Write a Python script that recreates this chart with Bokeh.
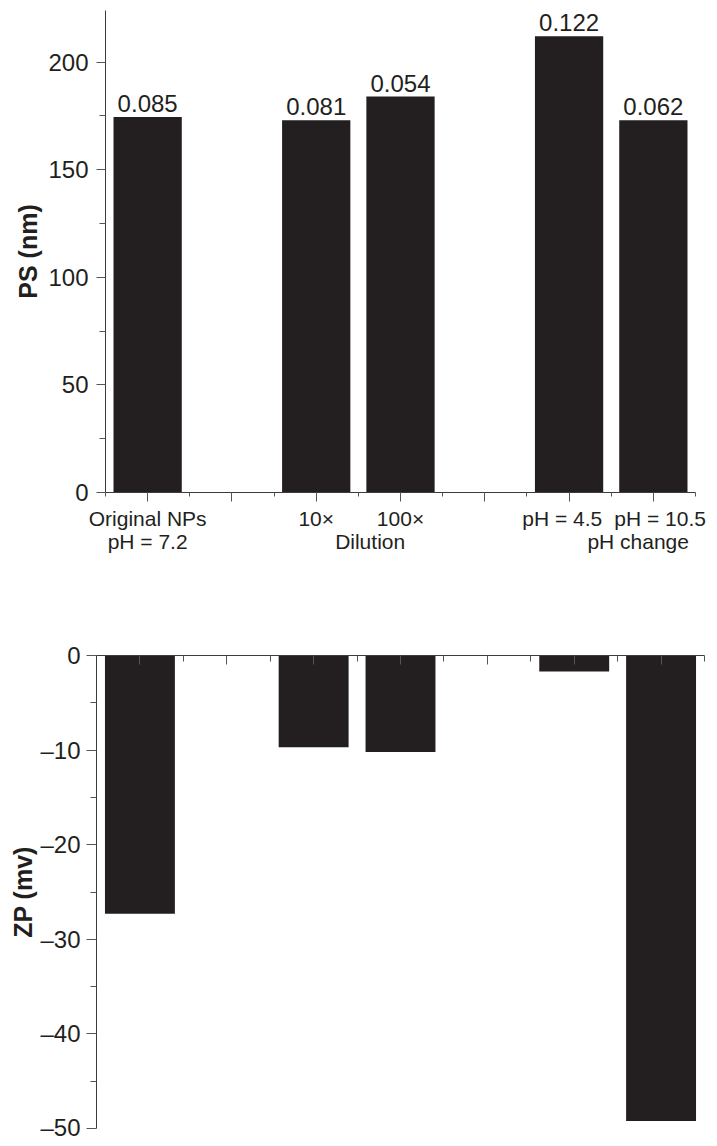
from bokeh.plotting import figure
from bokeh.models import Range1d, FixedTicker, LinearAxis, ColumnDataSource
from bokeh.layouts import column
from bokeh.embed import file_html
from bokeh.resources import INLINE
from bokeh.core.properties import value

# ---------------- data ----------------
bar_pos = [1, 3, 4, 6, 7]
cat_labels = ["Original NPs", "10×", "100×", "pH = 4.5", "pH = 10.5"]
cat_label_pos = [1, 3, 4, 5.92, 7.08]
group_labels = ["pH = 7.2", "Dilution", "pH change"]
group_label_pos = [1, 3.64, 6.82]
ps_nm = [174.5, 173.0, 184.0, 212.0, 173.0]
pdi = ["0.085", "0.081", "0.054", "0.122", "0.062"]
zp_mv = [-27.3, -9.7, -10.2, -1.7, -49.2]
ps_ticks = [0, 50, 100, 150, 200]
ps_minor = [25, 75, 125, 175]
zp_ticks = [0, -10, -20, -30, -40, -50]
zp_minor = [-5, -15, -25, -35, -45]
x_major = [1, 2, 3, 4, 5, 6, 7]
x_minor = [0.5, 1.5, 2.5, 3.5, 4.5, 5.5, 6.5, 7.5]

INK = "#231f20"
AXIS = "#3c3c3c"
TICK = "#555555"
FONT = "Liberation Sans"


def style_line_axis(ax):
    ax.axis_line_color = AXIS
    ax.major_tick_line_color = TICK
    ax.minor_tick_line_color = TICK


def label_axis(ticks, texts, standoff):
    ax = LinearAxis(ticker=FixedTicker(ticks=ticks, minor_ticks=[]))
    ax.major_label_overrides = {t: s for t, s in zip(ticks, texts)}
    ax.axis_line_color = None
    ax.major_tick_line_color = None
    ax.minor_tick_line_color = None
    ax.major_tick_out = 0
    ax.major_tick_in = 0
    ax.minor_tick_out = 0
    ax.minor_tick_in = 0
    ax.major_label_standoff = standoff
    ax.major_label_text_font = FONT
    ax.major_label_text_font_size = "21px"
    ax.major_label_text_color = INK
    return ax


# ---------------- top chart: particle size ----------------
p1 = figure(width=712, height=600, x_range=Range1d(0.5, 7.5), y_range=Range1d(0, 224),
            output_backend="svg", toolbar_location=None, frame_align=False,
            min_border_left=105, min_border_right=17, min_border_top=10, min_border_bottom=108)
p1.outline_line_color = None
p1.grid.visible = False

src1 = ColumnDataSource(dict(x=bar_pos, top=ps_nm, lab=pdi))
p1.vbar(x="x", top="top", bottom=0, width=0.81, source=src1, fill_color=INK, line_color=None)
p1.text(x="x", y="top", text="lab", source=src1, text_align="center", text_baseline="bottom",
        y_offset=-5, text_font=value(FONT), text_font_size="24px", text_color=INK)

xa = p1.xaxis[0]
xa.ticker = FixedTicker(ticks=x_major, minor_ticks=x_minor)
xa.major_label_text_font_size = "0px"
xa.major_label_text_color = None
xa.major_label_standoff = 0
style_line_axis(xa)
xa.major_tick_out = 9
xa.major_tick_in = 0
xa.minor_tick_out = 4
xa.minor_tick_in = 0

p1.add_layout(label_axis(cat_label_pos, cat_labels, 5), "below")
p1.add_layout(label_axis(group_label_pos, group_labels, -3), "below")

ya = p1.yaxis[0]
ya.ticker = FixedTicker(ticks=ps_ticks, minor_ticks=ps_minor)
style_line_axis(ya)
ya.major_tick_out = 9
ya.major_tick_in = 0
ya.minor_tick_out = 6
ya.minor_tick_in = 0
ya.major_label_standoff = 8
ya.major_label_text_font = FONT
ya.major_label_text_font_size = "24px"
ya.major_label_text_color = INK
ya.axis_label = "PS (nm)"
ya.axis_label_text_font = FONT
ya.axis_label_text_font_size = "25px"
ya.axis_label_text_font_style = "bold"
ya.axis_label_text_color = INK
ya.axis_label_standoff = 3

# ---------------- bottom chart: zeta potential ----------------
p2 = figure(width=712, height=540, x_range=Range1d(0.5, 7.5), y_range=Range1d(-50, 0),
            output_backend="svg", toolbar_location=None, x_axis_location="above",
            frame_align=False,
            min_border_left=96, min_border_right=8, min_border_top=55, min_border_bottom=12)
p2.outline_line_color = None
p2.grid.visible = False

src2 = ColumnDataSource(dict(x=bar_pos, top=zp_mv))
p2.vbar(x="x", top=0, bottom="top", width=0.805, source=src2, fill_color=INK, line_color=None)

xb = p2.xaxis[0]
xb.ticker = FixedTicker(ticks=x_major, minor_ticks=x_minor)
xb.major_label_text_font_size = "0px"
xb.major_label_text_color = None
style_line_axis(xb)
xb.major_tick_out = 0
xb.major_tick_in = 9
xb.minor_tick_out = 0
xb.minor_tick_in = 6

yb = p2.yaxis[0]
yb.ticker = FixedTicker(ticks=zp_ticks, minor_ticks=zp_minor)
yb.major_label_overrides = {t: ("0" if t == 0 else "\u2013" + str(abs(t))) for t in zp_ticks}
style_line_axis(yb)
yb.major_tick_out = 10
yb.major_tick_in = 0
yb.minor_tick_out = 6
yb.minor_tick_in = 0
yb.major_label_standoff = 6
yb.major_label_text_font = FONT
yb.major_label_text_font_size = "24px"
yb.major_label_text_color = INK
yb.axis_label = "ZP (mv)"
yb.axis_label_text_font = FONT
yb.axis_label_text_font_size = "25px"
yb.axis_label_text_font_style = "bold"
yb.axis_label_text_color = INK
yb.axis_label_standoff = 0

layout = column(p1, p2, spacing=0)
open("out.html", "w").write(file_html(layout, INLINE))
